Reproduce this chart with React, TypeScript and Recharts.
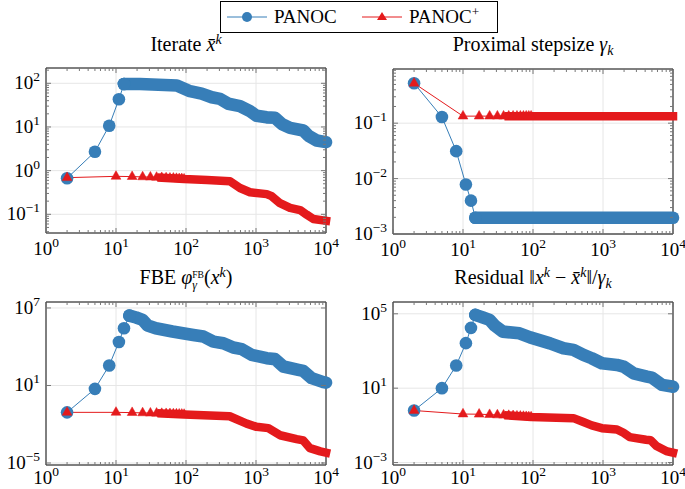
import React from "react";
import { LineChart, Line, XAxis, YAxis, ReferenceLine } from "recharts";

const BLUE = "#377eb8";
const RED = "#e41a1c";
const SERIF = "'Liberation Serif', 'DejaVu Serif', serif";

// iterations with a separate marker (after that the markers run together)
const panocIters = [2, 5, 8, 11, 13];
const plusIters = [2, 10, 17, 24, 31, 38, 45, 52, 59, 66, 73, 80, 87, 94];

// Iterate x̄^k
const iteratePanoc = [0.67, 2.7, 10.7, 43, 96];
const iterateRunIters = [13, 22, 74, 114, 167, 233, 306, 403, 590, 820, 1020, 1420, 1870, 2330, 3060, 4740, 5600, 7360, 10000];
const iterateRun = [96, 96, 89, 66, 58, 48, 44, 34, 30, 23, 18, 16.6, 16.2, 11.7, 9.5, 8.3, 6.3, 4.9, 4.5];
const iteratePlus = [0.69, 0.74, 0.73, 0.72, 0.71, 0.7, 0.69, 0.68, 0.67, 0.67, 0.66, 0.65, 0.65, 0.64];
const iteratePlusRunIters = [45, 94, 200, 425, 590, 820, 1420, 1675, 2200, 3060, 4260, 5300, 6600, 10000];
const iteratePlusRun = [0.69, 0.64, 0.61, 0.57, 0.4, 0.32, 0.29, 0.26, 0.18, 0.14, 0.125, 0.098, 0.078, 0.071];

// Proximal stepsize gamma_k
const stepPanoc = [0.525, 0.129, 0.0313, 0.0078, 0.004];
const stepRunIters = [15, 10000];
const stepRun = [0.00197, 0.00197];
const stepPlus = [0.525, 0.134, 0.134, 0.134, 0.134, 0.134, 0.134, 0.134, 0.134, 0.134, 0.134, 0.134, 0.134, 0.134];
const stepPlusRunIters = [45, 10000];
const stepPlusRun = [0.134, 0.134];

// FBE
const fbePanoc = [0.083, 5.5, 355, 23400, 269000];
const fbeRunIters = [15.5, 19.4, 24, 28.3, 37, 64, 90, 127, 177, 246, 341, 474, 624, 867, 1420, 1870, 2455, 4030, 4740, 6240, 9160, 10000];
const fbeRun = [2.57e6, 1.82e6, 1.2e6, 4.37e5, 2.69e5, 1.51e5, 1.1e5, 8.1e4, 6.2e4, 2.5e4, 1.86e4, 8.7e3, 6.5e3, 2.34e3, 1.29e3, 1.1e3, 295, 162, 135, 37, 18.2, 16.6];
const fbePlus = [0.0832, 0.0832, 0.0794, 0.0759, 0.0724, 0.0708, 0.0676, 0.0661, 0.0646, 0.0631, 0.0617, 0.0603, 0.0589, 0.0575];
const fbePlusRunIters = [45, 94, 420, 736, 1020, 1500, 2200, 3810, 4740, 5900, 8300, 10000];
const fbePlusRun = [0.0676, 0.0575, 0.0417, 0.0112, 0.0063, 0.005, 0.00141, 7.1e-4, 5.6e-4, 1.41e-4, 7.9e-5, 6.3e-5];

// Residual
const resPanoc = [0.63, 10, 166, 2630, 17400];
const resRunIters = [15, 19.3, 24, 28.3, 37, 64, 91, 175, 272, 378, 525, 690, 962, 1580, 1960, 2730, 4250, 5000, 6960, 9680, 10000];
const resRun = [8.7e4, 6.3e4, 4.7e4, 2.34e4, 1.1e4, 8.9e3, 5.4e3, 2.57e3, 1.41e3, 1.15e3, 617, 407, 219, 178, 145, 63, 42, 37, 15.1, 12.3, 12];
const resPlus = [0.63, 0.407, 0.398, 0.38, 0.363, 0.355, 0.339, 0.331, 0.316, 0.309, 0.302, 0.295, 0.288, 0.282];
const resPlusRunIters = [45, 94, 378, 525, 690, 962, 1580, 1960, 2400, 4120, 4800, 5800, 8000, 10000];
const resPlusRun = [0.339, 0.282, 0.245, 0.151, 0.1, 0.0708, 0.0603, 0.0398, 0.0234, 0.017, 0.0158, 0.00776, 0.00417, 0.00339];

const X_MAJOR = [1, 10, 100, 1000, 10000];

// ticks 1..9 in every decade between lo and hi
function logTicks(lo: number, hi: number) {
  const out: number[] = [];
  for (let e = Math.floor(Math.log10(lo)); e <= Math.ceil(Math.log10(hi)); e++) {
    for (let m = 1; m < 10; m++) {
      const v = Number((m * Math.pow(10, e)).toPrecision(3));
      if (v >= lo && v <= hi) out.push(v);
    }
  }
  return out;
}

const X_TICKS = logTicks(1, 10000);

type Pt = { k: number; v: number };
const pts = (ks: number[], vs: number[]): Pt[] => ks.map((k, i) => ({ k, v: vs[i] }));

function expLabel(v: number) {
  const e = Math.round(Math.log10(v));
  return e < 0 ? "\u2212" + -e : String(e);
}

function Triangle(props: any) {
  const { cx, cy, index } = props;
  if (cx == null || cy == null) return <g key={`t${index}`} />;
  return (
    <polygon
      key={`t${index}`}
      points={`${cx},${cy - 5.7} ${cx - 4.9},${cy + 2.9} ${cx + 4.9},${cy + 2.9}`}
      fill={RED}
      stroke={RED}
      strokeWidth={0.5}
    />
  );
}

interface PanelProps {
  left: number;
  top: number;
  width: number;
  height: number;
  margin: { top: number; right: number; bottom: number; left: number };
  labelDy: number;
  yDomain: [number, number];
  yMajor: number[];
  yTicks: number[];
  panoc: Pt[];
  panocRun: Pt[];
  plus: Pt[];
  plusRun: Pt[];
}

function Panel(p: PanelProps) {
  const plotW = p.width - p.margin.left - p.margin.right;
  const plotH = p.height - p.margin.top - p.margin.bottom;

  const xTick = (t: any) => {
    const v = t.payload.value;
    const major = X_MAJOR.includes(v);
    const len = major ? 5 : 3;
    return (
      <g key={`xt${v}`}>
        <line x1={t.x} x2={t.x} y1={t.y} y2={t.y - len} stroke="#777" />
        <line x1={t.x} x2={t.x} y1={t.y - plotH} y2={t.y - plotH + len} stroke="#777" />
        {major && (
          <text x={t.x} y={t.y + p.labelDy} textAnchor="middle" fontFamily={SERIF} fontSize={19} fill="#000">
            10<tspan dy={-8} fontSize={13.5}>{expLabel(v)}</tspan>
          </text>
        )}
      </g>
    );
  };

  const yTick = (t: any) => {
    const v = t.payload.value;
    const major = p.yMajor.includes(v);
    const len = major ? 5 : 3;
    return (
      <g key={`yt${v}`}>
        <line x1={t.x} x2={t.x + len} y1={t.y} y2={t.y} stroke="#777" />
        <line x1={t.x + plotW} x2={t.x + plotW - len} y1={t.y} y2={t.y} stroke="#777" />
        {major && (
          <text x={t.x - 6} y={t.y + 6} textAnchor="end" fontFamily={SERIF} fontSize={19} fill="#000">
            10<tspan dy={-8} fontSize={13.5}>{expLabel(v)}</tspan>
          </text>
        )}
      </g>
    );
  };

  return (
    <div style={{ position: "absolute", left: p.left, top: p.top }}>
      <LineChart
        width={p.width}
        height={p.height}
        margin={{ top: p.margin.top, right: p.margin.right, left: 0, bottom: 2 }}
      >
        {[10, 100, 1000].map((v) => (
          <ReferenceLine key={`gx${v}`} x={v} stroke="#e6e6e6" />
        ))}
        {p.yMajor.map((v) => (
          <ReferenceLine key={`gy${v}`} y={v} stroke="#e6e6e6" />
        ))}
        <ReferenceLine x={10000} stroke="#000" />
        <ReferenceLine y={p.yDomain[1]} stroke="#000" />
        <XAxis
          dataKey="k"
          type="number"
          scale="log"
          domain={[1, 10000]}
          ticks={X_TICKS}
          interval={0}
          tickSize={0}
          tickMargin={0}
          tickLine={false}
          height={p.margin.bottom - 2}
          axisLine={{ stroke: "#000" }}
          tick={xTick}
        />
        <YAxis
          type="number"
          scale="log"
          domain={p.yDomain}
          ticks={p.yTicks}
          interval={0}
          tickSize={0}
          tickMargin={0}
          tickLine={false}
          width={p.margin.left}
          axisLine={{ stroke: "#000" }}
          tick={yTick}
        />
        <Line
          data={[...p.panoc, p.panocRun[0]]}
          dataKey="v"
          stroke={BLUE}
          strokeWidth={1}
          dot={{ r: 6.3, fill: BLUE, stroke: "none" }}
          isAnimationActive={false}
        />
        <Line
          data={p.panocRun}
          dataKey="v"
          stroke={BLUE}
          strokeWidth={12.6}
          strokeLinecap="round"
          strokeLinejoin="round"
          dot={false}
          isAnimationActive={false}
        />
        <Line
          data={p.plusRun}
          dataKey="v"
          stroke={RED}
          strokeWidth={8.5}
          strokeLinecap="square"
          strokeLinejoin="round"
          dot={false}
          isAnimationActive={false}
        />
        <Line
          data={p.plus}
          dataKey="v"
          stroke={RED}
          strokeWidth={1}
          dot={Triangle}
          isAnimationActive={false}
        />
      </LineChart>
    </div>
  );
}

const sup: React.CSSProperties = { fontSize: "0.7em", position: "relative", top: "-0.5em", lineHeight: 0 };
const sub: React.CSSProperties = { fontSize: "0.7em", position: "relative", top: "0.3em", lineHeight: 0 };

function Title({ cx, y, children }: { cx: number; y: number; children: React.ReactNode }) {
  return (
    <div
      style={{
        position: "absolute",
        left: cx - 160,
        top: y,
        width: 320,
        textAlign: "center",
        fontFamily: SERIF,
        fontSize: 20,
        lineHeight: "22px",
        whiteSpace: "nowrap",
      }}
    >
      {children}
    </div>
  );
}

function Legend() {
  return (
    <div
      style={{
        position: "absolute",
        left: 220,
        top: 1,
        width: 276,
        height: 30,
        border: "1px solid #000",
        fontFamily: SERIF,
        fontSize: 19,
        lineHeight: "30px",
        background: "#fff",
      }}
    >
      <svg width={40} height={30} style={{ position: "absolute", left: 6, top: 0 }}>
        <line x1={0} x2={40} y1={15} y2={15} stroke={BLUE} strokeWidth={1} />
        <circle cx={20} cy={15} r={5} fill={BLUE} />
      </svg>
      <span style={{ position: "absolute", left: 53, top: 0 }}>PANOC</span>
      <svg width={40} height={30} style={{ position: "absolute", left: 141, top: 0 }}>
        <line x1={0} x2={40} y1={15} y2={15} stroke={RED} strokeWidth={1} />
        <polygon points="20,10 15,18 25,18" fill={RED} />
      </svg>
      <span style={{ position: "absolute", left: 188, top: 0 }}>
        PANOC<span style={sup}>+</span>
      </span>
    </div>
  );
}

export default function App() {
  return (
    <div style={{ position: "absolute", left: 0, top: 0, width: 685, height: 489, background: "#fff", overflow: "hidden" }}>
      <Legend />
      <Title cx={186} y={33}>
        Iterate <i>x̄</i>
        <span style={sup}>
          <i>k</i>
        </span>
      </Title>
      <Title cx={533} y={33}>
        Proximal stepsize <i>γ</i>
        <span style={sub}>
          <i>k</i>
        </span>
      </Title>
      <Title cx={186} y={266}>
        FBE <i>φ</i>
        <span
          style={{
            display: "inline-block",
            verticalAlign: "-0.45em",
            lineHeight: 1,
            fontSize: "0.6em",
            textAlign: "left",
          }}
        >
          <span style={{ display: "block", fontSize: "0.8em" }}>FB</span>
          <span style={{ display: "block" }}>
            <i>γ</i>
          </span>
        </span>
        (<i>x</i>
        <span style={sup}>
          <i>k</i>
        </span>
        )
      </Title>
      <Title cx={533} y={266}>
        Residual ‖<i>x</i>
        <span style={sup}>
          <i>k</i>
        </span>{" "}
        − <i>x̄</i>
        <span style={sup}>
          <i>k</i>
        </span>
        ‖/<i>γ</i>
        <span style={sub}>
          <i>k</i>
        </span>
      </Title>

      <Panel
        left={0}
        top={40}
        width={345}
        height={222}
        margin={{ top: 28, right: 19, bottom: 29, left: 46 }}
        labelDy={22}
        yDomain={[0.0373, 224]}
        yMajor={[0.1, 1, 10, 100]}
        yTicks={logTicks(0.0373, 224)}
        panoc={pts(panocIters, iteratePanoc)}
        panocRun={pts(iterateRunIters, iterateRun)}
        plus={pts(plusIters, iteratePlus)}
        plusRun={pts(iteratePlusRunIters, iteratePlusRun)}
      />
      <Panel
        left={340}
        top={40}
        width={345}
        height={222}
        margin={{ top: 29, right: 12, bottom: 28, left: 53 }}
        labelDy={22}
        yDomain={[0.001, 0.95]}
        yMajor={[0.001, 0.01, 0.1]}
        yTicks={logTicks(0.001, 0.95)}
        panoc={pts(panocIters, stepPanoc)}
        panocRun={pts(stepRunIters, stepRun)}
        plus={pts(plusIters, stepPlus)}
        plusRun={pts(stepPlusRunIters, stepPlusRun)}
      />
      <Panel
        left={0}
        top={285}
        width={345}
        height={204}
        margin={{ top: 17, right: 19, bottom: 24, left: 46 }}
        labelDy={19}
        yDomain={[7e-6, 2.9e7]}
        yMajor={[1e-5, 10, 1e7]}
        yTicks={[1e-5, 10, 1e7]}
        panoc={pts(panocIters, fbePanoc)}
        panocRun={pts(fbeRunIters, fbeRun)}
        plus={pts(plusIters, fbePlus)}
        plusRun={pts(fbePlusRunIters, fbePlusRun)}
      />
      <Panel
        left={340}
        top={285}
        width={345}
        height={204}
        margin={{ top: 17, right: 12, bottom: 24, left: 53 }}
        labelDy={19}
        yDomain={[7.4e-4, 4.3e5]}
        yMajor={[1e-3, 10, 1e5]}
        yTicks={[1e-3, 10, 1e5]}
        panoc={pts(panocIters, resPanoc)}
        panocRun={pts(resRunIters, resRun)}
        plus={pts(plusIters, resPlus)}
        plusRun={pts(resPlusRunIters, resPlusRun)}
      />
    </div>
  );
}
